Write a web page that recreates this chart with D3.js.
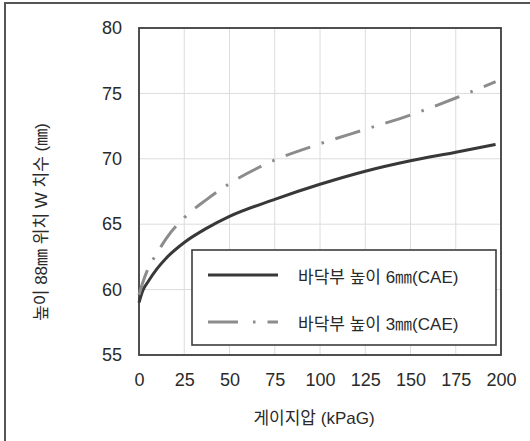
<!DOCTYPE html>
<html>
<head>
<meta charset="utf-8">
<script src="https://cdn.jsdelivr.net/npm/d3@7"></script>
<style>
	body{margin:0;background:#fff;}
	svg{display:block;}
	text{font-family:"Liberation Sans","Noto Sans CJK KR",sans-serif;fill:#2a2a2a;}
</style>
</head>
<body>
<svg id="chart"></svg>
<script>
// gauge pressure (kPaG)
const pressure = [0, 2, 5, 10, 15, 25, 37.5, 50, 75, 100, 125, 150, 175, 197];
// W dimension at 88mm height
const floor6mm = [59.0, 59.9, 60.6, 61.6, 62.4, 63.6, 64.7, 65.6, 66.9, 68.05, 69.05, 69.85, 70.5, 71.1];
const floor3mm = [59.6, 60.5, 61.6, 62.8, 63.9, 65.5, 66.9, 68.1, 69.9, 71.15, 72.25, 73.35, 74.65, 75.9];
const seriesNames = ['바닥부 높이 6㎜(CAE)', '바닥부 높이 3㎜(CAE)'];
const xTicks = [0, 25, 50, 75, 100, 125, 150, 175, 200];
const yTicks = [55, 60, 65, 70, 75, 80];

const width = 530, height = 441;
const margin = {left:139, right:29, top:28, bottom:86};

const svg = d3.select('#chart')
	.attr('width', width)
	.attr('height', height);

// outer frame (only top and left edges show)
svg.append('path')
	.attr('d', `M5,${height} V3 H${width}`)
	.attr('fill','none')
	.attr('stroke','#555')
	.attr('stroke-width',2);

const x = d3.scaleLinear().domain([0,200]).range([margin.left, width-margin.right]);
const y = d3.scaleLinear().domain([55,80]).range([height-margin.bottom, margin.top]);

// grid
svg.append('g')
	.selectAll('line')
	.data(xTicks.slice(1,-1))
	.join('line')
		.attr('x1',d=>x(d)).attr('x2',d=>x(d))
		.attr('y1',y(80)).attr('y2',y(55))
		.attr('stroke','#dcdcdc').attr('stroke-width',1);
svg.append('g')
	.selectAll('line')
	.data(yTicks.slice(1,-1))
	.join('line')
		.attr('y1',d=>y(d)).attr('y2',d=>y(d))
		.attr('x1',x(0)).attr('x2',x(200))
		.attr('stroke','#dcdcdc').attr('stroke-width',1);

// axes (labels only, no tick marks)
const xAxis = svg.append('g')
	.attr('transform',`translate(0,${y(55)})`)
	.call(d3.axisBottom(x).tickValues(xTicks).tickSize(0).tickPadding(18));
xAxis.select('.domain').remove();
xAxis.selectAll('text').attr('font-size',18).attr('fill','#2a2a2a')
	.style('font-family','"Liberation Sans",sans-serif');

const yAxis = svg.append('g')
	.attr('transform',`translate(${x(0)},0)`)
	.call(d3.axisLeft(y).tickValues(yTicks).tickSize(0).tickPadding(17));
yAxis.select('.domain').remove();
yAxis.selectAll('text').attr('font-size',18).attr('fill','#2a2a2a')
	.style('font-family','"Liberation Sans",sans-serif');

// plot border
svg.append('rect')
	.attr('x',x(0)).attr('y',y(80))
	.attr('width',x(200)-x(0)).attr('height',y(55)-y(80))
	.attr('fill','none').attr('stroke','#3c3c3c').attr('stroke-width',1.8);

const line = d3.line()
	.x(d=>x(d[0]))
	.y(d=>y(d[1]))
	.curve(d3.curveMonotoneX);

const dashDot = '26,12,2.5,12';
const series = [
	{name:seriesNames[0], values:d3.zip(pressure,floor6mm), color:'#383838', dash:null},
	{name:seriesNames[1], values:d3.zip(pressure,floor3mm), color:'#8c8c8c', dash:dashDot}
];

svg.append('g')
	.selectAll('path')
	.data(series)
	.join('path')
		.attr('d',d=>line(d.values))
		.attr('fill','none')
		.attr('stroke',d=>d.color)
		.attr('stroke-width',3)
		.attr('stroke-dasharray',d=>d.dash);

// legend
const legend = svg.append('g');
legend.append('rect')
	.attr('x',192).attr('y',250)
	.attr('width',304).attr('height',95)
	.attr('fill','#fff').attr('stroke','#3c3c3c').attr('stroke-width',1.6);

const rows = legend.selectAll('g.row')
	.data(series)
	.join('g')
		.classed('row',true)
		.attr('transform',(d,i)=>`translate(0,${275 + i*47})`);
rows.append('line')
	.attr('x1',208).attr('x2',278)
	.attr('stroke',d=>d.color)
	.attr('stroke-width',3)
	.attr('stroke-dasharray',(d,i)=>i==1 ? '30,15,2.5,12,12' : null);
rows.append('text')
	.attr('x',298).attr('y',8)
	.attr('font-size',17)
	.text(d=>d.name);

// axis titles
svg.append('text')
	.attr('x',314).attr('y',424)
	.attr('text-anchor','middle')
	.attr('font-size',17)
	.text('게이지압 (kPaG)');

svg.append('text')
	.attr('transform','translate(47,222) rotate(-90)')
	.attr('text-anchor','middle')
	.attr('font-size',17)
	.text('높이 88㎜ 위치 W 치수 (㎜)');
</script>
</body>
</html>
